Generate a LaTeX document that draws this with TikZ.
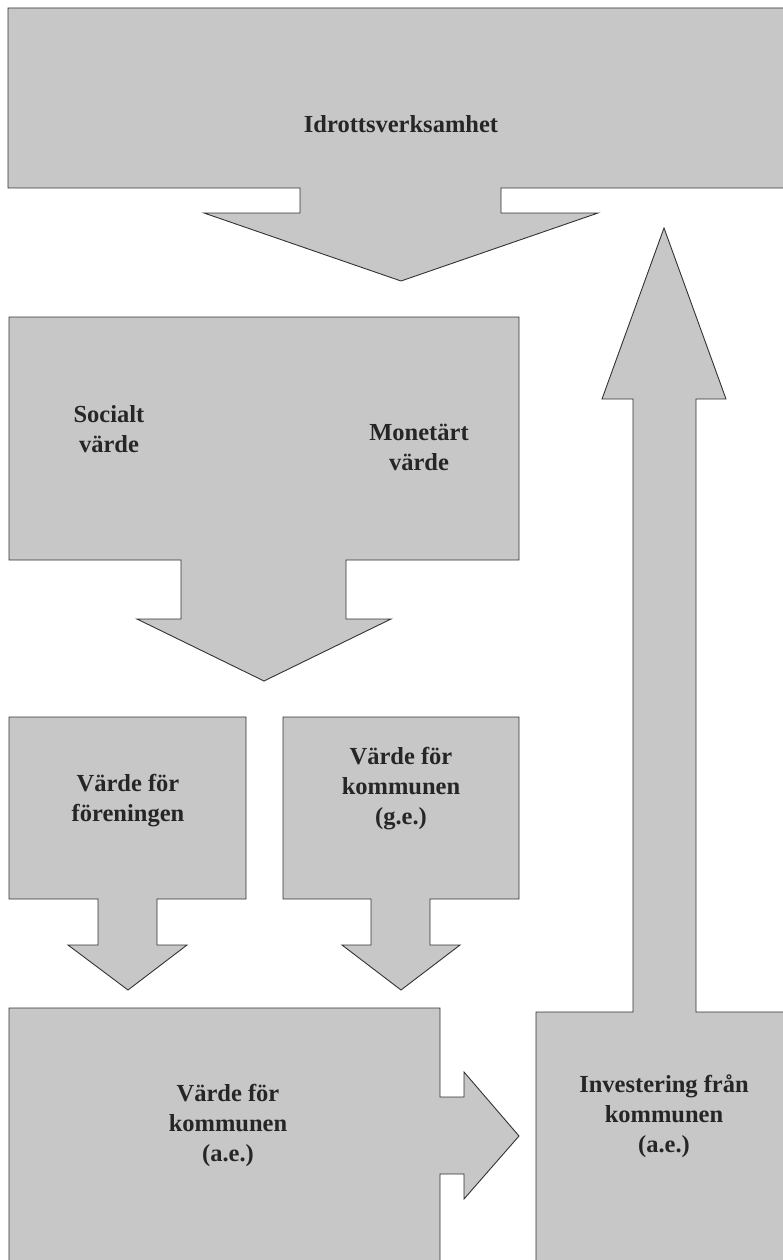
\documentclass[tikz,border=0pt]{standalone}
\usepackage{fontspec}
\setmainfont{Liberation Serif}
\usetikzlibrary{positioning}

\begin{document}
\begin{tikzpicture}[x=1pt, y=-1pt,
    pane/.style={fill=black!22, draw=black!80, line width=0.9pt, line join=miter},
    lbl/.style={align=center, font=\fontsize{24.5}{30}\selectfont\bfseries, text=black!85}]
    \useasboundingbox (0,0) rectangle (783,1260);
    \clip (0,0) rectangle (783,1260);

    % top block with arrow down
    \draw [pane] (8,8) -- (790,8) -- (790,188) -- (501,188) -- (501,213) -- (598,213) -- (401,281)
        -- (204,213) -- (300,213) -- (300,188) -- (8,188) -- cycle;
    % return arrow up from the investment block
    \draw [pane] (536,1270) -- (536,1012) -- (633,1012) -- (633,399) -- (602,399) -- (664,228)
        -- (726,399) -- (696,399) -- (696,1012) -- (790,1012) -- (790,1270) -- cycle;
    % value block
    \draw [pane] (9,317) -- (519,317) -- (519,560) -- (346,560) -- (346,619) -- (391,619) -- (264,681)
        -- (137,619) -- (181,619) -- (181,560) -- (9,560) -- cycle;
    % two small blocks
    \draw [pane] (9,717) -- (246,717) -- (246,899) -- (157,899) -- (157,945) -- (187,945) -- (128,990)
        -- (68,945) -- (98,945) -- (98,899) -- (9,899) -- cycle;
    \draw [pane] (283,717) -- (519,717) -- (519,899) -- (430,899) -- (430,945) -- (460,945) -- (401,990)
        -- (342,945) -- (371,945) -- (371,899) -- (283,899) -- cycle;
    % bottom block with arrow right
    \draw [pane] (9,1270) -- (9,1008) -- (440,1008) -- (440,1097) -- (464,1097) -- (464,1072) -- (519,1136)
        -- (464,1199) -- (464,1174) -- (440,1174) -- (440,1270) -- cycle;

    \node [lbl] (sport) at (401,124) {Idrottsverksamhet};
    \node [lbl] (social) at (109,429) {Socialt\\värde};
    \node [lbl] (money) at (419,447) {Monetärt\\värde};
    \node [lbl] (club) at (128,801) {Värde för\\föreningen};
    \node [lbl] (munge) at (401,789) {Värde för\\kommunen\\(g.e.)};
    \node [lbl] (munae) at (228,1125) {Värde för\\kommunen\\(a.e.)};
    \node [lbl] (invest) at (664,1116) {Investering från\\kommunen\\(a.e.)};
\end{tikzpicture}
\end{document}
